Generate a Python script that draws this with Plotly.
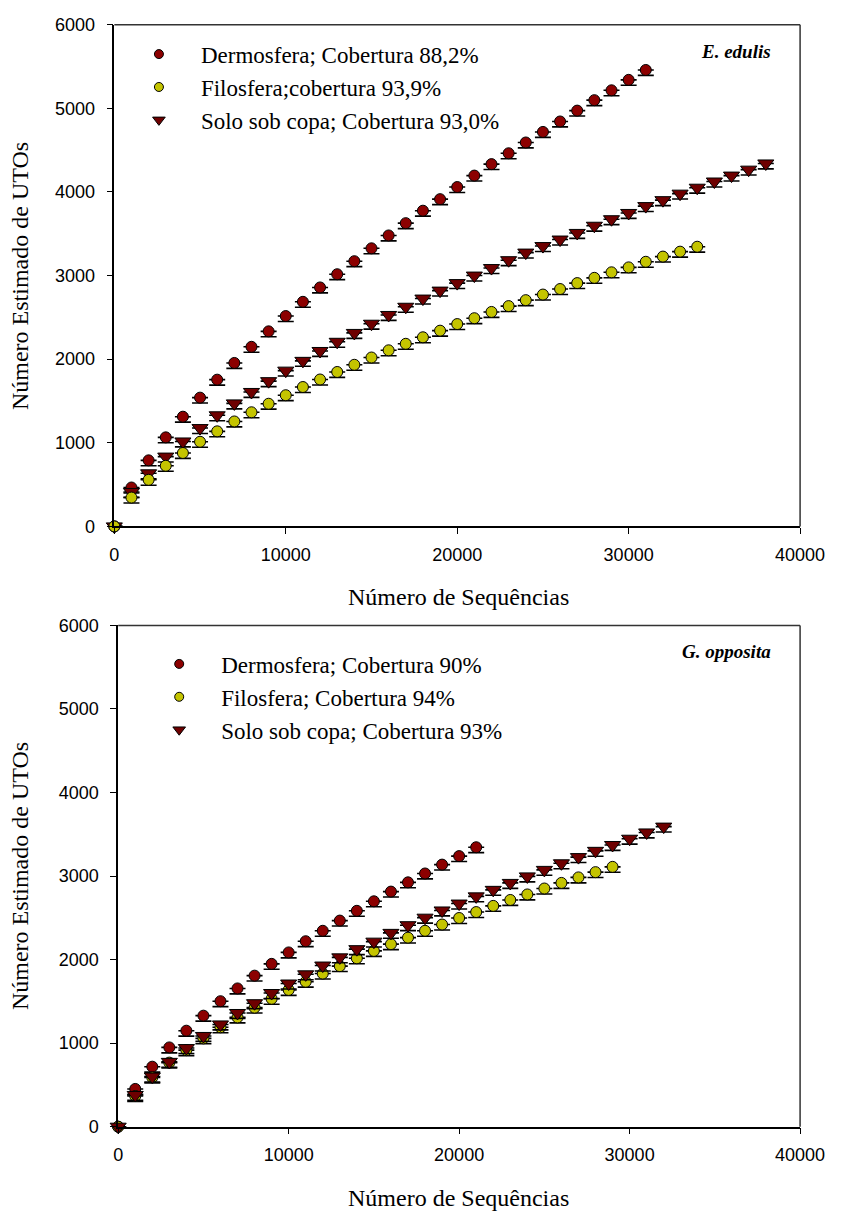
import plotly.graph_objects as go

W, H = 855, 1220

# ---------------- data: E. edulis (top) ----------------
x_derm_top = [0, 1000, 2000, 3000, 4000, 5000, 6000, 7000, 8000, 9000, 10000, 11000, 12000, 13000, 14000, 15000,
              16000, 17000, 18000, 19000, 20000, 21000, 22000, 23000, 24000, 25000, 26000, 27000, 28000, 29000, 30000, 31000]
y_derm_top = [0, 465, 790, 1065, 1312, 1540, 1755, 1955, 2148, 2333, 2516, 2686, 2858, 3016, 3172, 3326,
              3480, 3627, 3776, 3914, 4059, 4196, 4333, 4463, 4592, 4718, 4843, 4973, 5098, 5216, 5341, 5459]

x_filo_top = [0, 1000, 2000, 3000, 4000, 5000, 6000, 7000, 8000, 9000, 10000, 11000, 12000, 13000, 14000, 15000, 16000,
              17000, 18000, 19000, 20000, 21000, 22000, 23000, 24000, 25000, 26000, 27000, 28000, 29000, 30000, 31000,
              32000, 33000, 34000]
y_filo_top = [0, 345, 557, 725, 878, 1012, 1137, 1255, 1365, 1467, 1569, 1667, 1757, 1847, 1933, 2020, 2106,
              2184, 2262, 2341, 2420, 2490, 2565, 2635, 2706, 2773, 2839, 2910, 2973, 3039, 3098, 3165,
              3227, 3286, 3345]

x_solo_top = [0, 1000, 2000, 3000, 4000, 5000, 6000, 7000, 8000, 9000, 10000, 11000, 12000, 13000, 14000, 15000, 16000,
              17000, 18000, 19000, 20000, 21000, 22000, 23000, 24000, 25000, 26000, 27000, 28000, 29000, 30000, 31000,
              32000, 33000, 34000, 35000, 36000, 37000, 38000]
y_solo_top = [0, 412, 635, 835, 1016, 1176, 1329, 1471, 1608, 1737, 1863, 1980, 2098, 2208, 2314, 2424, 2529,
              2627, 2725, 2820, 2910, 3000, 3090, 3184, 3275, 3353, 3431, 3510, 3596, 3674, 3749, 3831,
              3902, 3980, 4051, 4125, 4196, 4267, 4341]

# ---------------- data: G. opposita (bottom) ----------------
x_derm_bot = [0, 1000, 2000, 3000, 4000, 5000, 6000, 7000, 8000, 9000, 10000, 11000, 12000, 13000, 14000, 15000,
              16000, 17000, 18000, 19000, 20000, 21000]
y_derm_bot = [0, 452, 718, 949, 1149, 1329, 1502, 1655, 1808, 1949, 2086, 2220, 2345, 2467, 2584, 2698,
              2814, 2925, 3031, 3137, 3239, 3345]

x_filo_bot = [0, 1000, 2000, 3000, 4000, 5000, 6000, 7000, 8000, 9000, 10000, 11000, 12000, 13000, 14000, 15000,
              16000, 17000, 18000, 19000, 20000, 21000, 22000, 23000, 24000, 25000, 26000, 27000, 28000, 29000]
y_filo_bot = [0, 367, 590, 767, 916, 1057, 1190, 1308, 1425, 1531, 1637, 1735, 1833, 1922, 2016, 2104,
              2185, 2263, 2345, 2420, 2498, 2569, 2643, 2714, 2780, 2851, 2918, 2984, 3047, 3110]

x_solo_bot = [0, 1000, 2000, 3000, 4000, 5000, 6000, 7000, 8000, 9000, 10000, 11000, 12000, 13000, 14000, 15000,
              16000, 17000, 18000, 19000, 20000, 21000, 22000, 23000, 24000, 25000, 26000, 27000, 28000, 29000,
              30000, 31000, 32000]
y_solo_bot = [0, 380, 600, 776, 941, 1086, 1224, 1361, 1478, 1600, 1714, 1824, 1929, 2027, 2125, 2215,
              2320, 2412, 2502, 2588, 2671, 2757, 2835, 2918, 2996, 3074, 3153, 3227, 3302, 3372,
              3447, 3522, 3592]

ERR_MINUS = 65  # lower standard-error extent (UTOs)

names_top = ["Dermosfera; Cobertura 88,2%", "Filosfera;cobertura 93,9%", "Solo sob copa; Cobertura 93,0%"]
names_bot = ["Dermosfera; Cobertura 90%", "Filosfera; Cobertura 94%", "Solo sob copa; Cobertura 93%"]
panel_labels = ["E. edulis", "G. opposita"]

x_ticks = [0, 10000, 20000, 30000, 40000]
y_ticks = [0, 1000, 2000, 3000, 4000, 5000, 6000]

# ---------------- styles ----------------
C_DERM = "#8c0000"
C_FILO = "#c4c400"
C_SOLO = "#6e0000"
SERIF = "Liberation Serif"
SANS = "Liberation Sans"

def px_x(p):
    return p / W

def px_y(p):
    return 1 - p / H

fig = go.Figure()

series = [
    ("x", "y", x_derm_top, y_derm_top, C_DERM, "circle", 11),
    ("x", "y", x_solo_top, y_solo_top, C_SOLO, "triangle-down", 14),
    ("x", "y", x_filo_top, y_filo_top, C_FILO, "circle", 11),
    ("x2", "y2", x_derm_bot, y_derm_bot, C_DERM, "circle", 11),
    ("x2", "y2", x_filo_bot, y_filo_bot, C_FILO, "circle", 11),
    ("x2", "y2", x_solo_bot, y_solo_bot, C_SOLO, "triangle-down", 14),
]
for xa, ya, xs, ys, col, sym, sz in series:
    fig.add_trace(go.Scatter(
        x=xs, y=ys, xaxis=xa, yaxis=ya, mode="markers", showlegend=False, cliponaxis=False,
        marker=dict(color=col, symbol=sym, size=sz, line=dict(color="black", width=1)),
        error_y=dict(type="data", symmetric=False, array=[0] * len(ys), arrayminus=[ERR_MINUS] * len(ys),
                     color="black", thickness=1.6, width=8),
    ))

# legend-only entries (smaller symbols as in the reference)
for lg, names in (("legend", names_top), ("legend2", names_bot)):
    for nm, col, sym, sz in zip(names, [C_DERM, C_FILO, C_SOLO], ["circle", "circle", "triangle-down"], [9, 9, 11]):
        fig.add_trace(go.Scatter(
            x=[None], y=[None], mode="markers", name=nm, legend=lg,
            xaxis="x" if lg == "legend" else "x2", yaxis="y" if lg == "legend" else "y2",
            marker=dict(color=col, symbol=sym, size=sz, line=dict(color="black", width=1)),
        ))

axis_common = dict(
    showgrid=False, zeroline=False, showline=True, linecolor="black", linewidth=1.5,
    ticks="outside", ticklen=6, tickwidth=1.2, tickcolor="black",
    tickfont=dict(family=SANS, size=18, color="black"), tickformat="d",
)

top_dom_x = [px_x(113.3), px_x(824)]
top_dom_y = [px_y(525), px_y(15)]
bot_dom_x = [px_x(117.3), px_x(824)]
bot_dom_y = [px_y(1135.3), px_y(625.7)]

fig.update_layout(
    width=W, height=H, margin=dict(l=0, r=0, t=0, b=0),
    paper_bgcolor="white", plot_bgcolor="white",
    xaxis=dict(domain=top_dom_x, range=[0, 40000], tickvals=x_ticks, anchor="y",
               ticklabelstandoff=5, **axis_common),
    yaxis=dict(domain=top_dom_y, range=[0, 6000], tickvals=y_ticks, anchor="x",
               ticklabelstandoff=8, **axis_common),
    xaxis2=dict(domain=bot_dom_x, range=[0, 40000], tickvals=x_ticks, anchor="y2",
                ticklabelstandoff=5, **axis_common),
    yaxis2=dict(domain=bot_dom_y, range=[0, 6000], tickvals=y_ticks, anchor="x2",
                ticklabelstandoff=8, **axis_common),
    legend=dict(x=px_x(116), y=px_y(23), xanchor="left", yanchor="top", bgcolor="rgba(0,0,0,0)",
                font=dict(family=SERIF, size=23, color="black"), tracegroupgap=0, itemwidth=74),
    legend2=dict(x=px_x(137), y=px_y(643), xanchor="left", yanchor="top", bgcolor="rgba(0,0,0,0)",
                 font=dict(family=SERIF, size=23, color="black"), tracegroupgap=0, itemwidth=74),
)

# frame (top & right borders)
for (dx, dy) in ((top_dom_x, top_dom_y), (bot_dom_x, bot_dom_y)):
    fig.add_shape(type="line", xref="paper", yref="paper", x0=dx[0], x1=dx[1], y0=dy[1], y1=dy[1],
                  line=dict(color="#333333", width=1.5))
    fig.add_shape(type="line", xref="paper", yref="paper", x0=dx[1], x1=dx[1], y0=dy[0], y1=dy[1],
                  line=dict(color="#333333", width=1.5))

# panel labels
fig.add_annotation(text="<b><i>" + panel_labels[0] + "</i></b>", xref="paper", yref="paper",
                   x=px_x(796), y=px_y(42), xanchor="right", yanchor="middle", showarrow=False,
                   font=dict(family=SERIF, size=19, color="black"))
fig.add_annotation(text="<b><i>" + panel_labels[1] + "</i></b>", xref="paper", yref="paper",
                   x=px_x(796), y=px_y(652), xanchor="right", yanchor="middle", showarrow=False,
                   font=dict(family=SERIF, size=19, color="black"))

# axis titles
for cy_x, cx_y, mid_x, mid_y in ((597, 15, 470, 270), (1208, 15, 470, 880)):
    fig.add_annotation(text="Número de Sequências", xref="paper", yref="paper",
                       x=px_x(mid_x), y=px_y(cy_x), xanchor="center", yanchor="middle", showarrow=False,
                       font=dict(family=SERIF, size=24, color="black"))
    fig.add_annotation(text="Número Estimado de UTOs", xref="paper", yref="paper", textangle=-90,
                       x=px_x(cx_y), y=px_y(mid_y), xanchor="center", yanchor="middle", showarrow=False,
                       font=dict(family=SERIF, size=24, color="black"))

fig.write_html("out.html")
